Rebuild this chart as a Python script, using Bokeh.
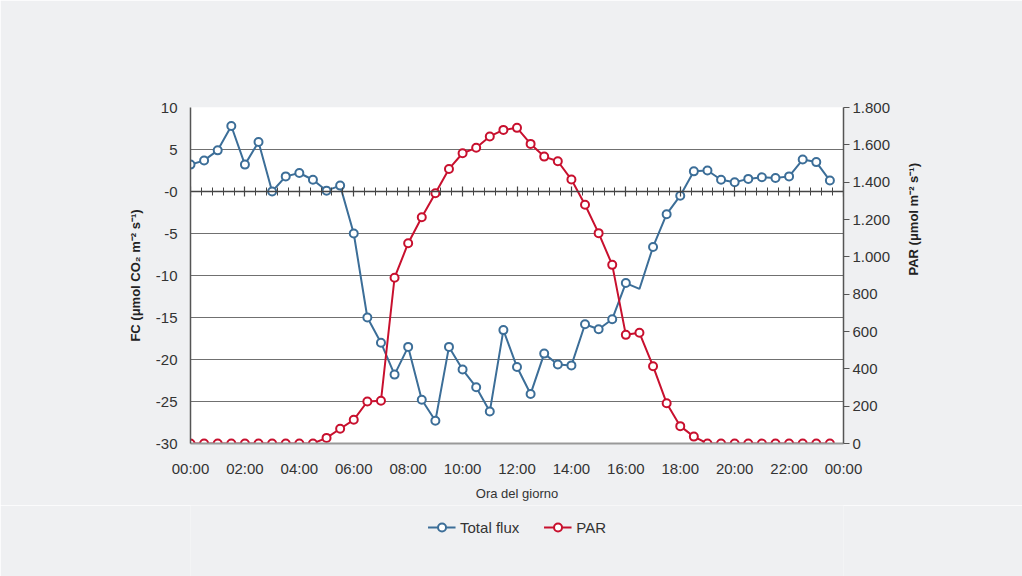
import math
import numpy as np
from bokeh.plotting import figure
from bokeh.layouts import column
from bokeh.models import Range1d, LinearAxis, FixedTicker, Legend, LegendItem, ColumnDataSource
from bokeh.embed import file_html
from bokeh.resources import INLINE

times = ["00:00", "00:30", "01:00", "01:30", "02:00", "02:30", "03:00", "03:30",
         "04:00", "04:30", "05:00", "05:30", "06:00", "06:30", "07:00", "07:30",
         "08:00", "08:30", "09:00", "09:30", "10:00", "10:30", "11:00", "11:30",
         "12:00", "12:30", "13:00", "13:30", "14:00", "14:30", "15:00", "15:30",
         "16:00", "16:30", "17:00", "17:30", "18:00", "18:30", "19:00", "19:30",
         "20:00", "20:30", "21:00", "21:30", "22:00", "22:30", "23:00", "23:30"]

total_flux = [3.2, 3.7, 4.9, 7.8, 3.2, 5.9, 0.0, 1.8, 2.2, 1.4, 0.1, 0.7,
              -5.0, -15.0, -18.0, -21.8, -18.5, -24.8, -27.3, -18.5, -21.2, -23.3, -26.2, -16.5,
              -20.9, -24.1, -19.3, -20.6, -20.7, -15.8, -16.4, -15.2, -10.9, -11.6, -6.6, -2.7,
              -0.5, 2.4, 2.5, 1.4, 1.1, 1.5, 1.7, 1.6, 1.8, 3.8, 3.5, 1.3]

par = [0, 0, 0, 0, 0, 0, 0, 0, 0, 0, 30, 79,
       127, 225, 229, 888, 1073, 1212, 1341, 1471, 1555, 1584, 1645, 1680,
       1691, 1605, 1537, 1512, 1414, 1279, 1127, 957, 582, 593, 414, 216,
       93, 37, 0, 0, 0, 0, 0, 0, 0, 0, 0, 0]

flux_no_marker = ["16:30"]

series_names = ["Total flux", "PAR"]

x_tick_pos = [0, 2, 4, 6, 8, 10, 12, 14, 16, 18, 20, 22, 24]
x_tick_labels = ["00:00", "02:00", "04:00", "06:00", "08:00", "10:00", "12:00",
                 "14:00", "16:00", "18:00", "20:00", "22:00", "00:00"]
fc_ticks = [-30, -25, -20, -15, -10, -5, 0, 5, 10]
fc_tick_labels = ["-30", "-25", "-20", "-15", "-10", "-5", "-0", "5", "10"]
par_ticks = [0, 200, 400, 600, 800, 1000, 1200, 1400, 1600, 1800]
par_tick_labels = ["0", "200", "400", "600", "800", "1.000", "1.200", "1.400", "1.600", "1.800"]

FONT = "Liberation Sans"
TXT = "#333333"
BLUE = "#3c6e98"
RED = "#c8102e"
BG = "#eff0f2"

hours = [int(t[:2]) + int(t[3:]) / 60 for t in times]

src = ColumnDataSource(dict(x=hours, flux=total_flux, par=par))
mk_idx = [i for i, t in enumerate(times) if t not in flux_no_marker]
src_fm = ColumnDataSource(dict(x=[hours[i] for i in mk_idx], flux=[total_flux[i] for i in mk_idx]))

p = figure(width=1022, height=505, output_backend="svg", toolbar_location=None,
           x_range=Range1d(0, 24), y_range=Range1d(fc_ticks[0], fc_ticks[-1]),
           min_border_left=190, min_border_right=179, min_border_top=107, min_border_bottom=62)
p.extra_y_ranges = {"par": Range1d(par_ticks[0], par_ticks[-1])}
p.background_fill_color = "white"
p.border_fill_color = BG
p.outline_line_color = None
p.xgrid.visible = False
p.ygrid.ticker = FixedTicker(ticks=fc_ticks)
p.ygrid.grid_line_color = "#707070"
p.ygrid.grid_line_width = 1.2

# bottom axis (labels only)
xa = p.xaxis[0]
xa.ticker = FixedTicker(ticks=x_tick_pos)
xa.major_label_overrides = {v: l for v, l in zip(x_tick_pos, x_tick_labels)}
xa.major_tick_out = 0
xa.major_tick_in = 0
xa.minor_tick_out = 0
xa.minor_tick_in = 0
xa.axis_line_color = "#999999"
xa.axis_line_width = 2
xa.major_label_standoff = 16
xa.major_label_text_font = FONT
xa.major_label_text_font_size = "15px"
xa.major_label_text_color = TXT
xa.axis_label = "Ora del giorno"
xa.axis_label_text_font = FONT
xa.axis_label_text_font_style = "normal"
xa.axis_label_text_font_size = "13px"
xa.axis_label_text_color = TXT
xa.axis_label_standoff = 6

# left axis
ya = p.yaxis[0]
ya.ticker = FixedTicker(ticks=fc_ticks)
ya.major_label_overrides = {v: l for v, l in zip(fc_ticks, fc_tick_labels)}
ya.major_tick_out = 0
ya.major_tick_in = 0
ya.minor_tick_out = 0
ya.minor_tick_in = 0
ya.axis_line_color = "#555555"
ya.axis_line_width = 1.5
ya.major_label_standoff = 13
ya.major_label_text_font = FONT
ya.major_label_text_font_size = "15px"
ya.major_label_text_color = TXT
ya.axis_label = "FC (\u03bcmol CO\u2082 m\u207b\u00b2 s\u207b\u00b9)"
ya.axis_label_text_font = FONT
ya.axis_label_text_font_style = "bold"
ya.axis_label_text_font_size = "13px"
ya.axis_label_text_color = "#222222"
ya.axis_label_standoff = 10

# right axis
ra = LinearAxis(y_range_name="par", ticker=FixedTicker(ticks=par_ticks))
ra.major_label_overrides = {v: l for v, l in zip(par_ticks, par_tick_labels)}
ra.major_tick_out = 6
ra.major_tick_in = 0
ra.minor_tick_out = 0
ra.minor_tick_in = 0
ra.major_tick_line_color = "#555555"
ra.axis_line_color = "#555555"
ra.axis_line_width = 1.5
ra.major_label_standoff = 3
ra.major_label_text_font = FONT
ra.major_label_text_font_size = "15px"
ra.major_label_text_color = TXT
ra.axis_label = "PAR (\u03bcmol m\u207b\u00b2 s\u207b\u00b9)"
ra.axis_label_text_font = FONT
ra.axis_label_text_font_style = "bold"
ra.axis_label_text_font_size = "13px"
ra.axis_label_text_color = "#222222"
ra.axis_label_standoff = 20
try:
    ra.axis_label_orientation = math.pi / 2
except Exception:
    pass
p.add_layout(ra, "right")

# zero line axis with ticks
minor = list(np.arange(0, 24.001, 0.4))
za = LinearAxis(fixed_location=0, ticker=FixedTicker(ticks=x_tick_pos, minor_ticks=minor))
za.major_label_text_font_size = "0px"
za.major_label_text_alpha = 0
za.major_tick_in = 5
za.major_tick_out = 5
za.minor_tick_in = 4
za.minor_tick_out = 4
za.axis_line_color = "#444444"
za.axis_line_width = 1.5
za.major_tick_line_color = "#444444"
za.minor_tick_line_color = "#444444"
za.major_tick_line_width = 1.2
za.minor_tick_line_width = 1
p.add_layout(za, "above")

p.line("x", "flux", source=src, line_color=BLUE, line_width=2)
p.scatter("x", "flux", source=src_fm, marker="circle", size=8, fill_color="white",
          line_color=BLUE, line_width=2)
p.line("x", "par", source=src, y_range_name="par", line_color=RED, line_width=2)
p.scatter("x", "par", source=src, y_range_name="par", marker="circle", size=8,
          fill_color="white", line_color=RED, line_width=2)

# legend strip below the chart (its renderers use the same data, kept out of view)
lg = figure(width=1022, height=71, output_backend="svg", toolbar_location=None,
            x_range=Range1d(100, 101), y_range=Range1d(100000, 100001),
            x_axis_location=None, y_axis_location=None,
            min_border_left=10, min_border_right=0, min_border_top=0, min_border_bottom=0)
lg.background_fill_color = BG
lg.border_fill_color = BG
lg.outline_line_color = None
lg.grid.visible = False
items = []
for name, ycol, col in zip(series_names, ["flux", "par"], [BLUE, RED]):
    r1 = lg.line("x", ycol, source=src, line_color=col, line_width=2)
    r2 = lg.scatter("x", ycol, source=src, marker="circle", size=8, fill_color="white",
                    line_color=col, line_width=2)
    items.append(LegendItem(label=name, renderers=[r1, r2]))

legend = Legend(items=items, orientation="horizontal", location="top_center")
legend.label_text_font = FONT
legend.label_text_font_size = "15px"
legend.label_text_color = TXT
legend.border_line_alpha = 0
legend.background_fill_alpha = 0
legend.glyph_width = 28
legend.spacing = 24
legend.label_standoff = 5
legend.padding = 4
legend.margin = 8
lg.add_layout(legend, "center")

layout = column(p, lg, spacing=0)

open("out.html", "w").write(file_html(layout, INLINE))
